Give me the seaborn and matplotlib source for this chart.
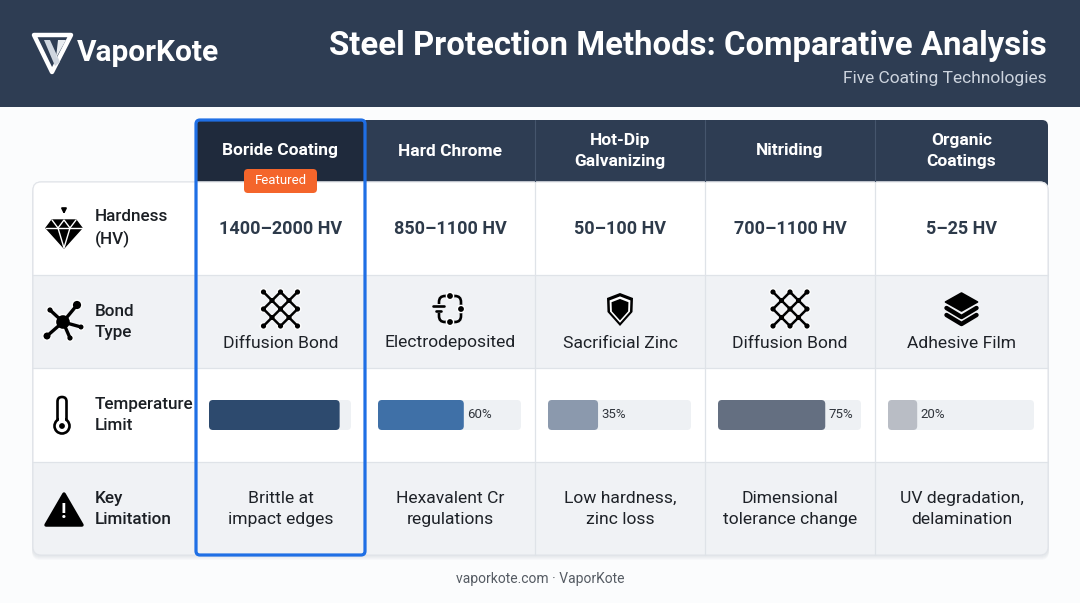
import matplotlib
matplotlib.use('Agg')
import matplotlib.pyplot as plt
import seaborn as sns
from matplotlib.patches import FancyBboxPatch, Rectangle, Polygon, Circle

# Data
methods = ['Boride Coating', 'Hard Chrome', 'Hot-Dip\nGalvanizing', 'Nitriding', 'Organic\nCoatings']
hardness = ['1400–2000 HV', '850–1100 HV', '50–100 HV', '700–1100 HV', '5–25 HV']
bond_types = ['Diffusion Bond', 'Electrodeposited', 'Sacrificial Zinc', 'Diffusion Bond', 'Adhesive Film']
bond_icons = ['lattice', 'circuit', 'shield', 'lattice', 'layers']
temp_limit = [92, 60, 35, 75, 20]
limitations = ['Brittle at\nimpact edges', 'Hexavalent Cr\nregulations', 'Low hardness,\nzinc loss',
               'Dimensional\ntolerance change', 'UV degradation,\ndelamination']
row_labels = ['Hardness\n(HV)', 'Bond\nType', 'Temperature\nLimit', 'Key\nLimitation']
bar_colors = ['#2d4a6e', '#3f70a7', '#8b99ad', '#646f81', '#b9bdc5']
featured = 0

sns.set_theme(style='white')
plt.rcParams['font.family'] = ['Roboto', 'DejaVu Sans']

W, H = 1080, 603
fig = plt.figure(figsize=(W / 100, H / 100), dpi=100, facecolor='#fbfcfd')
ax = fig.add_axes([0, 0, 1, 1])
ax.set_xlim(0, W)
ax.set_ylim(H, 0)
ax.axis('off')

# layout (pixels)
col_x = [196, 365, 535, 705, 875, 1048]
row_y = [182, 275, 368, 462, 555]
left = 33
head_top = 120

# header band
ax.add_patch(Rectangle((0, 0), W, 107, fc='#2e3d53', ec='none'))
ax.text(77, 53, 'VaporKote', color='white', fontsize=21.5, fontweight='bold', va='center', ha='left')
ax.text(1047, 46, 'Steel Protection Methods: Comparative Analysis', color='white', fontsize=23.7,
        fontweight='bold', va='center', ha='right')
ax.text(1047, 78, 'Five Coating Technologies', color='#cdd4de', fontsize=12.5, va='center', ha='right')

# logo
ax.add_patch(Polygon([(34, 35), (71, 35), (52, 72)], closed=True, fc='none', ec='white', lw=3.2, joinstyle='round'))
ax.add_patch(Polygon([(44, 40), (50, 40), (60, 62), (55, 66)], closed=True, fc='#cfd6df', ec='none'))
ax.add_patch(Polygon([(58, 40), (66, 40), (56, 58)], closed=True, fc='#e8ecf0', ec='none'))

# card shadow
for k in range(4):
    ax.add_patch(FancyBboxPatch((left - 1, row_y[0] + 2 + k), 1017, 373, boxstyle='round,pad=0,rounding_size=8',
                                fc='#1e2a3a', ec='none', alpha=0.018))

# header cells
ax.add_patch(FancyBboxPatch((col_x[0], head_top), col_x[-1] - col_x[0], 80,
                            boxstyle='round,pad=0,rounding_size=6', fc='#2e3d53', ec='none'))
ax.add_patch(FancyBboxPatch((col_x[0], head_top), col_x[1] - col_x[0], 80,
                            boxstyle='round,pad=0,rounding_size=5', fc='#1f2a3c', ec='none'))
for xv in col_x[1:-1]:
    ax.plot([xv, xv], [head_top, row_y[0]], color='#45556c', lw=0.8)

# body
body = FancyBboxPatch((left, row_y[0]), col_x[-1] - left, row_y[-1] - row_y[0],
                      boxstyle='round,pad=0,rounding_size=8', fc='white', ec='#e1e4e9', lw=0.8)
ax.add_patch(body)
row_fc = ['white', '#f0f2f5', 'white', '#f0f2f5']
for r in range(4):
    rect = Rectangle((left, row_y[r]), col_x[-1] - left, row_y[r + 1] - row_y[r], fc=row_fc[r], ec='none')
    ax.add_patch(rect)
    rect.set_clip_path(body)
for yv in row_y[1:-1]:
    ax.plot([left, col_x[-1]], [yv, yv], color='#dfe3e8', lw=0.9)
for xv in col_x[:-1]:
    ax.plot([xv, xv], [row_y[0], row_y[-1]], color='#dfe3e8', lw=0.9)
ax.add_patch(FancyBboxPatch((left, row_y[0]), col_x[-1] - left, row_y[-1] - row_y[0],
                            boxstyle='round,pad=0,rounding_size=8', fc='none', ec='#e1e4e9', lw=0.8))

# column headers
for i, m in enumerate(methods):
    cx = (col_x[i] + col_x[i + 1]) / 2
    ax.text(cx, 151, m, color='white', fontsize=12.5, fontweight='bold', ha='center', va='center',
            linespacing=1.45)

# row labels
for r, lab in enumerate(row_labels):
    cy = (row_y[r] + row_y[r + 1]) / 2
    ax.text(95, cy, lab, color='#1b1f24', fontsize=12.3, fontweight='medium', ha='left', va='center',
            linespacing=1.5)


# icons
def line(pts, **kw):
    xs, ys = zip(*pts)
    ax.plot(xs, ys, solid_capstyle='round', solid_joinstyle='round', **kw)


def diamond(cx, cy):
    ax.annotate('', xy=(cx, cy - 11), xytext=(cx, cy - 22),
                arrowprops=dict(arrowstyle='-|>', color='black', lw=1.4, mutation_scale=7))
    pts = [(cx - 12, cy - 8), (cx + 12, cy - 8), (cx + 18, cy), (cx, cy + 20), (cx - 18, cy)]
    ax.add_patch(Polygon(pts, closed=True, fc='black', ec='black', lw=1, joinstyle='round'))
    line([(cx - 18, cy), (cx + 18, cy)], color='white', lw=1)
    line([(cx - 12, cy - 8), (cx - 6, cy), (cx, cy - 8), (cx + 6, cy), (cx + 12, cy - 8)], color='white', lw=1)
    line([(cx - 6, cy), (cx, cy + 20), (cx + 6, cy)], color='white', lw=1)


def molecule(cx, cy):
    sats = [(14, -17, 4.8), (-13, -12, 3.3), (-16, 14, 4.2), (7, 16, 3.3), (18, 5, 3.2)]
    for dx, dy, r in sats:
        line([(cx, cy), (cx + dx, cy + dy)], color='black', lw=2.4)
    ax.add_patch(Circle((cx, cy), 7.5, fc='black'))
    for dx, dy, r in sats:
        ax.add_patch(Circle((cx + dx, cy + dy), r, fc='black'))


def thermometer(cx, cy):
    ax.add_patch(FancyBboxPatch((cx - 4.5, cy - 17), 9, 28, boxstyle='round,pad=0,rounding_size=4.5',
                                fc='white', ec='black', lw=1.9))
    ax.add_patch(Circle((cx, cy + 12), 7.5, fc='white', ec='black', lw=1.9))
    ax.add_patch(Rectangle((cx - 3, cy + 2), 6, 6, fc='white', ec='none'))
    ax.add_patch(Circle((cx, cy + 12), 3.6, fc='black'))


def warning(cx, cy):
    ax.add_patch(Polygon([(cx, cy - 15), (cx + 18, cy + 16), (cx - 18, cy + 16)], closed=True,
                         fc='black', ec='black', lw=2.5, joinstyle='round'))
    ax.text(cx, cy + 4, '!', color='white', fontsize=15, fontweight='bold', ha='center', va='center')


def lattice(cx, cy):
    s = 8.5
    pts = [(i, j) for i in range(-2, 3) for j in range(-2, 3) if (i + j) % 2 == 0]
    for i, j in pts:
        for di, dj in [(1, 1), (1, -1)]:
            if (i + di, j + dj) in pts:
                line([(cx + i * s, cy + j * s), (cx + (i + di) * s, cy + (j + dj) * s)], color='black', lw=1.8)
    for i, j in pts:
        ax.add_patch(Circle((cx + i * s, cy + j * s), 3.3, fc='black'))


def circuit(cx, cy):
    ax.add_patch(FancyBboxPatch((cx - 11, cy - 13), 22, 26, boxstyle='round,pad=0,rounding_size=6',
                                fc='none', ec='black', lw=1.9))
    ax.add_patch(Rectangle((cx - 14, cy - 5), 6, 9, fc='#f0f2f5', ec='none'))
    line([(cx - 17, cy - 3), (cx - 6, cy - 3)], color='black', lw=1.9)
    line([(cx - 14, cy + 2), (cx - 9, cy + 2)], color='black', lw=1.9)
    for dx, dy in [(0, -13), (11, 0), (0, 13)]:
        ax.add_patch(Circle((cx + dx, cy + dy), 3.6, fc='black'))


def shield(cx, cy):
    base = [(0, -16), (13, -11), (12.5, 3), (0, 17), (-12.5, 3), (-13, -11)]
    for sc, col in [(1.0, 'black'), (0.8, 'white'), (0.65, 'black')]:
        ax.add_patch(Polygon([(cx + dx * sc, cy + dy * sc + (1 - sc) * 1) for dx, dy in base], closed=True,
                             fc=col, ec='none'))


def layers(cx, cy):
    ax.add_patch(Polygon([(cx, cy - 16), (cx + 16, cy - 7), (cx, cy + 2), (cx - 16, cy - 7)], closed=True,
                         fc='black', ec='black', lw=1.2, joinstyle='round'))
    line([(cx - 15, cy - 1), (cx, cy + 8), (cx + 15, cy - 1)], color='black', lw=3.2)
    line([(cx - 15, cy + 6), (cx, cy + 15), (cx + 15, cy + 6)], color='black', lw=3.2)


diamond(64, 228)
molecule(63, 322)
thermometer(62, 414)
warning(64, 509)

icon_funcs = {'lattice': lattice, 'circuit': circuit, 'shield': shield, 'layers': layers}

for i in range(5):
    cx = (col_x[i] + col_x[i + 1]) / 2
    ax.text(cx, 229, hardness[i], color='#2d3a4a', fontsize=13, fontweight='bold', ha='center', va='center')
    icon_funcs[bond_icons[i]](cx, 309)
    ax.text(cx, 343, bond_types[i], color='#1e2228', fontsize=12.6, ha='center', va='center')
    ax.text(cx, 509, limitations[i], color='#1e2228', fontsize=12.6, ha='center', va='center', linespacing=1.45)

# temperature bars
bar_y0, bar_h = 400, 30
for i, v in enumerate(temp_limit):
    x0 = col_x[i] + 13
    w = col_x[i + 1] - col_x[i] - 27
    ax.add_patch(FancyBboxPatch((x0, bar_y0), w, bar_h, boxstyle='round,pad=0,rounding_size=4',
                                fc='#eef1f4', ec='none'))
    axb = fig.add_axes([x0 / W, 1 - (bar_y0 + bar_h) / H, w / W, bar_h / H])
    sns.barplot(x=[v], y=[methods[i]], orient='h', color=bar_colors[i], saturation=1, width=1, ax=axb)
    axb.set_xlim(0, 100)
    axb.set_ylim(0.5, -0.5)
    axb.axis('off')
    axb.patch.set_alpha(0)
    for p in list(axb.patches):
        px, py, pw, ph = p.get_x(), p.get_y(), p.get_width(), p.get_height()
        p.remove()
        rx = 4 * 100 / w
        asp = (1 / bar_h) / (100 / w)
        axb.add_patch(FancyBboxPatch((px, py), pw, ph, boxstyle=f'round,pad=0,rounding_size={rx}',
                                     mutation_aspect=asp, fc=bar_colors[i], ec='none'))
    if v < 85:
        axb.text(v + 2.5, 0, f'{v}%', color='#30353c', fontsize=9.5, ha='left', va='center')

# featured outline and badge
ax.add_patch(FancyBboxPatch((col_x[0], head_top), col_x[1] - col_x[0], row_y[-1] - head_top,
                            boxstyle='round,pad=0,rounding_size=4', fc='none', ec='#1f6fe5', lw=2.3, zorder=5))
ax.add_patch(FancyBboxPatch((244, 169), 73, 24, boxstyle='round,pad=0,rounding_size=4',
                            fc='#f4652b', ec='none', zorder=6))
ax.text(280.5, 181, 'Featured', color='white', fontsize=9.5, ha='center', va='center', zorder=7)

# footer
ax.text(540, 579, 'vaporkote.com · VaporKote', color='#555b63', fontsize=10, ha='center', va='center')

fig.savefig('out.png', dpi=100, facecolor=fig.get_facecolor())
